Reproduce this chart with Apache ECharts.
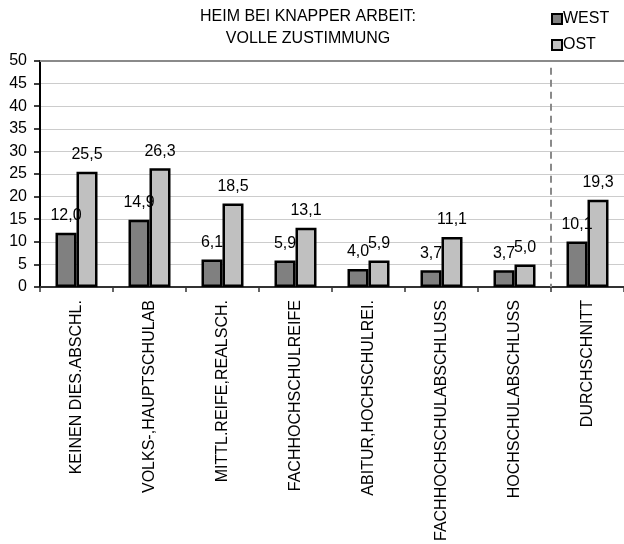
<!DOCTYPE html>
<html>
<head>
<meta charset="utf-8">
<script src="https://cdn.jsdelivr.net/npm/echarts@6/dist/echarts.min.js"></script>
<style>
  html, body { margin: 0; padding: 0; background: #fff; }
  #chart { width: 624px; height: 544px; }
</style>
</head>
<body>
<div id="chart"></div>
<script>
// Education groups (x axis)
const categories = [
  'KEINEN DIES.ABSCHL.',
  'VOLKS-,HAUPTSCHULAB',
  'MITTL.REIFE,REALSCH.',
  'FACHHOCHSCHULREIFE',
  'ABITUR,HOCHSCHULREI.',
  'FACHHOCHSCHULABSCHLUSS',
  'HOCHSCHULABSCHLUSS',
  'DURCHSCHNITT'
];
// Share of full agreement, in percent
const westValues = [12.0, 14.9, 6.1, 5.9, 4.0, 3.7, 3.7, 10.1];
const ostValues  = [25.5, 26.3, 18.5, 13.1, 5.9, 11.1, 5.0, 19.3];
const seriesNames = ['WEST', 'OST'];
// Position of the separator before the average group (category boundary index)
const separatorAt = 7;

const FONT = 'Arial, "Liberation Sans", Helvetica, sans-serif';
const fmt = v => v.toFixed(1).replace('.', ',');

const chart = echarts.init(document.getElementById('chart'), null, { renderer: 'canvas' });

const barLabel = {
  show: true,
  position: 'top',
  distance: 9,
  color: '#000',
  fontFamily: FONT,
  fontSize: 16,
  formatter: p => fmt(p.value)
};

chart.setOption({
  animation: false,
  backgroundColor: '#fff',
  title: {
    text: 'HEIM BEI KNAPPER ARBEIT:\nVOLLE ZUSTIMMUNG',
    left: 308,
    top: 6,
    padding: 0,
    textAlign: 'center',
    textStyle: {
      fontFamily: FONT,
      fontSize: 16,
      fontWeight: 'normal',
      color: '#000',
      lineHeight: 22
    }
  },
  legend: {
    data: seriesNames,
    orient: 'vertical',
    left: 551,
    top: 11,
    padding: 0,
    itemWidth: 10,
    itemHeight: 10,
    itemGap: 10,
    icon: 'rect',
    itemStyle: { borderColor: '#000', borderWidth: 2 },
    textStyle: {
      fontFamily: FONT,
      fontSize: 16,
      color: '#000',
      padding: [0, 0, 0, -4]
    }
  },
  grid: {
    left: 40,
    top: 61,
    bottom: 254,
    width: 587,
    containLabel: false
  },
  xAxis: [
    {
      type: 'category',
      data: categories,
      boundaryGap: true,
      axisLine: { show: true, lineStyle: { color: '#333', width: 2 } },
      axisTick: { show: true, length: 5, alignWithLabel: false, lineStyle: { color: '#333', width: 1.5 } },
      axisLabel: {
        interval: 0,
        rotate: 90,
        margin: 13,
        color: '#000',
        fontFamily: FONT,
        fontSize: 16
      },
      splitLine: { show: false }
    },
    {
      // Continuous helper axis over the same width; its line closes the plot on top
      type: 'value',
      position: 'top',
      min: 0,
      max: categories.length,
      axisLine: { show: true, onZero: false, lineStyle: { color: '#8a8a8a', width: 2 } },
      axisTick: { show: false },
      axisLabel: { show: false },
      splitLine: { show: false }
    }
  ],
  yAxis: {
    type: 'value',
    min: 0,
    max: 50,
    interval: 5,
    axisLine: { show: true, lineStyle: { color: '#000', width: 2 } },
    axisTick: { show: true, inside: false, length: 6, lineStyle: { color: '#000', width: 1.5 } },
    axisLabel: {
      margin: 13,
      color: '#000',
      fontFamily: FONT,
      fontSize: 16
    },
    splitLine: { show: true, lineStyle: { color: '#cccccc', width: 1 } }
  },
  series: [
    {
      name: seriesNames[0],
      type: 'bar',
      xAxisIndex: 0,
      data: westValues,
      barWidth: 21,
      barGap: '0%',
      itemStyle: { color: '#808080', borderColor: '#000', borderWidth: 2.5 },
      label: barLabel
    },
    {
      name: seriesNames[1],
      type: 'bar',
      xAxisIndex: 0,
      data: ostValues,
      barWidth: 21,
      barGap: '0%',
      itemStyle: { color: '#c0c0c0', borderColor: '#000', borderWidth: 2.5 },
      label: barLabel
    },
    {
      // Dashed separator in front of the average group
      type: 'line',
      xAxisIndex: 1,
      yAxisIndex: 0,
      data: [[separatorAt, 0]],
      showSymbol: false,
      symbol: 'none',
      lineStyle: { opacity: 0 },
      silent: true,
      markLine: {
        silent: true,
        symbol: 'none',
        label: { show: false },
        lineStyle: { color: '#8a8a8a', type: [7, 5], width: 2 },
        data: [[{ coord: [separatorAt, 48.5] }, { coord: [separatorAt, 0] }]]
      }
    }
  ]
});
</script>
</body>
</html>
